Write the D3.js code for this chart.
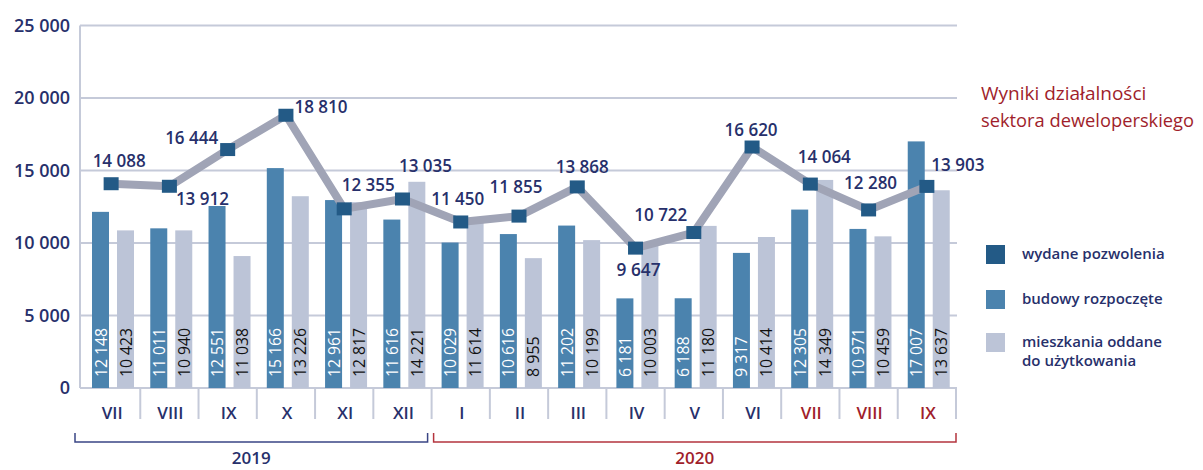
<!DOCTYPE html>
<html>

<head>
  <meta charset="UTF-8">
  <title>Wyniki działalności sektora deweloperskiego</title>
  <style>
    body { margin: 0; background: #fff; }
    svg { display: block; }
    svg text { font-family: 'Open Sans', 'Noto Sans', sans-serif; }
  </style>
</head>

<body>
  <script src="https://cdn.jsdelivr.net/npm/d3@7"></script>
  <script>
    // --- data ---
    const months = ['VII', 'VIII', 'IX', 'X', 'XI', 'XII', 'I', 'II', 'III', 'IV', 'V', 'VI', 'VII', 'VIII', 'IX']
    const monthYear = [2019, 2019, 2019, 2019, 2019, 2019, 2020, 2020, 2020, 2020, 2020, 2020, 2020, 2020, 2020]
    const redMonths = [12, 13, 14]
    const permits = [14088, 13912, 16444, 18810, 12355, 13035, 11450, 11855, 13868, 9647, 10722, 16620, 14064, 12280, 13903]
    const started = [12148, 11011, 12551, 15166, 12961, 11616, 10029, 10616, 11202, 6181, 6188, 9317, 12305, 10971, 17007]
    const deliveredLabels = [10423, 10940, 11038, 13226, 12817, 14221, 11614, 8955, 10199, 10003, 11180, 10414, 14349, 10459, 13637]
    // in the source the bars for VII and IX 2019 are not drawn at their printed values
    const deliveredBars = [10870, 10870, 9100, 13226, 12817, 14221, 11614, 8955, 10199, 10003, 11180, 10414, 14349, 10459, 13637]
    const yTicks = [0, 5000, 10000, 15000, 20000, 25000]
    const years = ['2019', '2020']
    const legendLabels = [['wydane pozwolenia'], ['budowy rozpoczęte'], ['mieszkania oddane', 'do użytkowania']]

    // placement of the permit labels around their markers
    const permitLabelOffsets = [[8, -23], [33, 12], [-36, -12], [35, -9], [24, -24], [23, -33], [-3, -23], [-3, -29],
      [5, -20], [3, 22], [-33, -18], [-1, -17], [14, -27], [2, -27], [31, -22]]

    const width = 1203,
      height = 470

    const navy = '#27306b',
      red = '#a01e2b',
      darkBlue = '#235a86',
      midBlue = '#4b83ae',
      lightBar = '#bcc4d7',
      lineGrey = '#a0a4b6',
      gridGrey = '#c5cad9'

    const fmt = v => d3.format(',')(v).replace(/,/g, ' ')

    const svg = d3.select('body')
      .append('svg')
      .attr('width', width)
      .attr('height', height)

    const x = d3.scaleBand()
      .domain(d3.range(months.length))
      .range([82, 956])

    const y = d3.scaleLinear()
      .domain([0, 25000])
      .range([388, 25.5])

    // text squeezed to the width it has in the reference
    const fit = (sel, w) => {
      if (sel.node().getComputedTextLength() > w) sel.attr('textLength', w).attr('lengthAdjust', 'spacingAndGlyphs')
    }

    // grid + y axis
    const yAxis = d3.axisLeft(y)
      .tickValues(yTicks)
      .tickSize(0)
      .tickPadding(10)
      .tickFormat(fmt)

    const gy = svg.append('g')
      .attr('transform', 'translate(80,0)')
      .call(yAxis)
    gy.select('.domain').remove()
    gy.selectAll('text')
      .attr('fill', navy)
      .attr('font-size', 18)
      .attr('font-weight', 600)
      .each(function () { fit(d3.select(this), this.textContent.length > 1 ? 56 : 11) })

    svg.append('g')
      .selectAll('line')
      .data(yTicks)
      .join('line')
      .attr('x1', 80)
      .attr('x2', 957)
      .attr('y1', d => y(d))
      .attr('y2', d => y(d))
      .attr('stroke', gridGrey)
      .attr('stroke-width', 2)

    svg.append('line')
      .attr('x1', 80).attr('x2', 80)
      .attr('y1', y(25000)).attr('y2', y(0))
      .attr('stroke', gridGrey)
      .attr('stroke-width', 2)

    // x axis separators and month labels
    const gx = svg.append('g')
    gx.selectAll('line')
      .data(d3.range(1, months.length + 1))
      .join('line')
      .attr('x1', d => d < months.length ? x(d) : x.range()[1])
      .attr('x2', d => d < months.length ? x(d) : x.range()[1])
      .attr('y1', y(0))
      .attr('y2', 419)
      .attr('stroke', gridGrey)
      .attr('stroke-width', 2)

    gx.selectAll('text')
      .data(months)
      .join('text')
      .attr('x', (d, i) => x(i) + x.bandwidth() / 2 + 1)
      .attr('y', 413)
      .attr('dy', '0.35em')
      .attr('text-anchor', 'middle')
      .attr('font-size', 17)
      .attr('font-weight', 600)
      .attr('fill', (d, i) => redMonths.includes(i) ? red : navy)
      .text(d => d)

    // bars
    const barW = 17
    const bars = svg.append('g')
    bars.selectAll('rect.started')
      .data(started)
      .join('rect')
      .attr('class', 'started')
      .attr('x', (d, i) => x(i) + 10)
      .attr('width', barW)
      .attr('y', d => y(d))
      .attr('height', d => y(0) - y(d))
      .attr('fill', midBlue)

    bars.selectAll('rect.delivered')
      .data(deliveredBars)
      .join('rect')
      .attr('class', 'delivered')
      .attr('x', (d, i) => x(i) + 35)
      .attr('width', barW)
      .attr('y', d => y(d))
      .attr('height', d => y(0) - y(d))
      .attr('fill', lightBar)

    // vertical bar labels
    const vLabel = (data, offset, color) => {
      bars.selectAll(null)
        .data(data)
        .join('text')
        .attr('transform', (d, i) => `translate(${x(i) + offset + barW / 2 + 6},377) rotate(-90)`)
        .attr('font-size', 16)
        .attr('font-weight', 500)
        .attr('fill', color)
        .text(fmt)
        .each(function () { fit(d3.select(this), this.textContent.length > 5 ? 49 : 41) })
    }
    vLabel(started, 10, '#fff')
    vLabel(deliveredLabels, 35, '#111')

    // permits line
    const line = d3.line()
      .x((d, i) => x(i) + x.bandwidth() / 2)
      .y(d => y(d))

    svg.append('path')
      .datum(permits)
      .attr('d', line)
      .attr('fill', 'none')
      .attr('stroke', lineGrey)
      .attr('stroke-width', 8)
      .attr('stroke-linejoin', 'round')

    svg.append('g')
      .selectAll('rect')
      .data(permits)
      .join('rect')
      .attr('x', (d, i) => x(i) + x.bandwidth() / 2 - 7.5)
      .attr('y', d => y(d) - 6.5)
      .attr('width', 15)
      .attr('height', 13)
      .attr('fill', darkBlue)

    svg.append('g')
      .selectAll('text')
      .data(permits)
      .join('text')
      .attr('x', (d, i) => x(i) + x.bandwidth() / 2 + permitLabelOffsets[i][0])
      .attr('y', (d, i) => y(d) + permitLabelOffsets[i][1])
      .attr('dy', '0.35em')
      .attr('text-anchor', 'middle')
      .attr('font-size', 18)
      .attr('font-weight', 600)
      .attr('fill', navy)
      .text(fmt)
      .each(function () { fit(d3.select(this), this.textContent.length > 5 ? 53 : 44) })

    // year brackets
    years.forEach((yr, k) => {
      const idx = monthYear.map((v, i) => v == +yr ? i : -1).filter(i => i >= 0)
      const x0 = k == 0 ? 75 : x(idx[0]) + 2
      const x1 = k == 0 ? x(idx[idx.length - 1]) + x.bandwidth() - 4 : x.range()[1]
      const c = k == 0 ? '#3a4585' : '#b4343e'
      svg.append('path')
        .attr('d', `M${x0},433V442H${x1}V433`)
        .attr('fill', 'none')
        .attr('stroke', c)
        .attr('stroke-width', 1.5)
      svg.append('text')
        .attr('x', (x0 + x1) / 2)
        .attr('y', 458)
        .attr('dy', '0.35em')
        .attr('text-anchor', 'middle')
        .attr('font-size', 17)
        .attr('font-weight', 600)
        .attr('fill', k == 0 ? navy : red)
        .text(yr)
    })

    // title
    const title = svg.append('g').attr('fill', red).attr('font-size', 19).attr('font-weight', 500)
    fit(title.append('text').attr('x', 981).attr('y', 100).text('Wyniki działalności'), 168)
    fit(title.append('text').attr('x', 981).attr('y', 127).text('sektora deweloperskiego'), 213)

    // legend
    const legendColors = [darkBlue, midBlue, lightBar]
    const legendTop = [245, 290, 333]
    const lg = svg.append('g')
    legendLabels.forEach((lines, i) => {
      lg.append('rect')
        .attr('x', 986)
        .attr('y', legendTop[i])
        .attr('width', 19)
        .attr('height', 19)
        .attr('fill', legendColors[i])
      lines.forEach((t, j) => {
        const el = lg.append('text')
          .attr('x', 1022)
          .attr('y', legendTop[i] + 14 + j * 19)
          .attr('font-size', 15)
          .attr('font-weight', 600)
          .attr('fill', navy)
          .text(t)
        fit(el, [[149], [149], [145, 119]][i][j])
      })
    })
  </script>
</body>

</html>
